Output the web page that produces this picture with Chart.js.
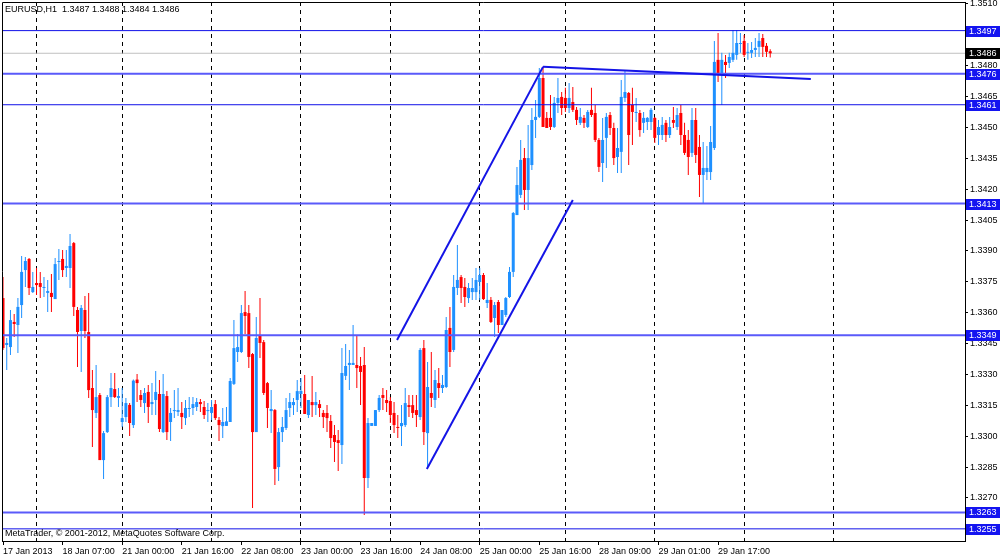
<!DOCTYPE html>
<html><head><meta charset="utf-8">
<script src="https://cdn.jsdelivr.net/npm/chart.js@4.4.1/dist/chart.umd.min.js"></script>
<style>html,body{margin:0;padding:0;background:#fff;overflow:hidden}canvas{display:block}</style>
</head><body>
<canvas id="c" width="1000" height="557"></canvas>
<script>
const symbolTitle = "EURUSD,H1  1.3487 1.3488 1.3484 1.3486";
const copyrightText = "MetaTrader, \u00A9 2001-2012, MetaQuotes Software Corp.";

const opens = [
1.33671,1.33443,1.33433,1.33555,1.33540,1.33637,1.33807,1.33861,1.33700,1.33744,
1.33744,1.33720,1.33696,1.33696,1.33666,1.33846,1.33861,1.33817,1.33817,1.33938,
1.33613,1.33511,1.33613,1.33506,1.33234,1.33113,1.33200,1.32884,1.33020,1.33190,
1.33229,1.33186,1.33069,1.33093,1.33152,1.33054,1.33275,1.33200,1.33161,1.33215,
1.33156,1.33176,1.33205,1.33020,1.33195,1.33069,1.33122,1.33118,1.33113,1.33088,
1.33132,1.33137,1.33142,1.33166,1.33142,1.33122,1.33113,1.33156,1.33079,1.33049,
1.33050,1.33069,1.33254,1.33409,1.33409,1.33603,1.33598,1.33399,1.33020,1.33491,
1.33457,1.33258,1.33122,1.33127,1.32850,1.33020,1.33040,1.33137,1.33151,1.33176,
1.33205,1.33205,1.33103,1.33166,1.33151,1.33156,1.33113,1.33113,1.33074,1.33006,
1.32981,1.32957,1.33293,1.33346,1.33346,1.33346,1.33341,1.33346,1.32797,1.33050,
1.33050,1.33127,1.33200,1.33176,1.33171,1.33113,1.33045,1.33049,1.33054,1.33151,
1.33151,1.33127,1.33093,1.33428,1.33015,1.33210,1.33176,1.33258,1.33234,1.33239,
1.33526,1.33419,1.33720,1.33773,1.33725,1.33671,1.33700,1.33700,1.33749,1.33783,
1.33647,1.33662,1.33574,1.33652,1.33540,1.33589,1.33676,1.33798,1.34074,1.34172,
1.34351,1.34196,1.34317,1.34536,1.34551,1.34740,1.34546,1.34546,1.34502,1.34619,
1.34648,1.34643,1.34594,1.34623,1.34585,1.34522,1.34546,1.34502,1.34585,1.34570,
1.34439,1.34327,1.34449,1.34560,1.34497,1.34356,1.34381,1.34643,1.34667,1.34609,
1.34570,1.34570,1.34522,1.34526,1.34526,1.34546,1.34463,1.34463,1.34522,1.34463,
1.34536,1.34502,1.34570,1.34463,1.34439,1.34376,1.34536,1.34405,1.34269,1.34283,
1.34283,1.34400,1.34828,1.34764,1.34818,1.34813,1.34828,1.34852,1.34905,1.34920,
1.34862,1.34862,1.34876,1.34891,1.34934,1.34896,1.3487];

const highs = [
1.33773,1.33477,1.33613,1.33594,1.33671,1.33875,1.33871,1.33866,1.33798,1.33817,
1.33798,1.33773,1.33759,1.33788,1.33866,1.33909,1.33904,1.33904,1.33982,1.33943,
1.33628,1.33637,1.33681,1.33696,1.33322,1.33346,1.33210,1.33025,1.33200,1.33307,
1.33307,1.33234,1.33234,1.33186,1.33161,1.33275,1.33302,1.33224,1.33234,1.33249,
1.33258,1.33317,1.33273,1.33302,1.33219,1.33137,1.33224,1.33234,1.33166,1.33176,
1.33190,1.33190,1.33186,1.33181,1.33171,1.33161,1.33176,1.33176,1.33093,1.33137,
1.33142,1.33283,1.33564,1.33496,1.33637,1.33705,1.33637,1.33404,1.33579,1.33671,
1.33467,1.33263,1.33224,1.33132,1.33040,1.33093,1.33186,1.33210,1.33186,1.33273,
1.33283,1.33297,1.33176,1.33293,1.33215,1.33176,1.33127,1.33151,1.33103,1.33054,
1.33030,1.33428,1.33448,1.33419,1.33540,1.33487,1.33385,1.33433,1.33088,1.33064,
1.33127,1.33200,1.33234,1.33224,1.33190,1.33166,1.33103,1.33151,1.33234,1.33200,
1.33200,1.33200,1.33428,1.33467,1.33360,1.33409,1.33322,1.33331,1.33297,1.33579,
1.33628,1.33783,1.33929,1.33783,1.33768,1.33744,1.33768,1.33817,1.33817,1.33793,
1.33744,1.33676,1.33652,1.33662,1.33613,1.33676,1.33822,1.34089,1.34308,1.34439,
1.34400,1.34512,1.34594,1.34633,1.34789,1.34794,1.34575,1.34657,1.34648,1.34740,
1.34672,1.34692,1.34716,1.34696,1.34599,1.34594,1.34560,1.34585,1.34692,1.34609,
1.34449,1.34546,1.34570,1.34575,1.34522,1.34497,1.34730,1.34779,1.34672,1.34692,
1.34643,1.34585,1.34575,1.34551,1.34594,1.34551,1.34536,1.34551,1.34536,1.34551,
1.34599,1.34594,1.34609,1.34522,1.34487,1.34594,1.34594,1.34463,1.34429,1.34410,
1.34507,1.34920,1.34959,1.34862,1.34852,1.34862,1.34973,1.34973,1.34959,1.34949,
1.34910,1.34915,1.34934,1.34959,1.34954,1.34910,1.3488];

const lows = [
1.33419,1.33322,1.33394,1.33482,1.33404,1.33574,1.33725,1.33686,1.33696,1.33686,
1.33671,1.33676,1.33603,1.33603,1.33666,1.33759,1.33773,1.33773,1.33720,1.33584,
1.33336,1.33312,1.33477,1.33186,1.32947,1.33088,1.32884,1.32792,1.33015,1.33142,
1.33186,1.33142,1.33045,1.33069,1.33001,1.33040,1.33166,1.33142,1.33113,1.33064,
1.33103,1.33103,1.33020,1.33015,1.32981,1.32977,1.33088,1.33098,1.33035,1.33054,
1.33093,1.33103,1.33122,1.33118,1.33083,1.33069,1.33079,1.33079,1.32977,1.32991,
1.33049,1.33069,1.33249,1.33360,1.33404,1.33496,1.33331,1.32651,1.33020,1.33380,
1.33200,1.33040,1.33015,1.32763,1.32782,1.32972,1.33030,1.33093,1.33103,1.33118,
1.33137,1.33108,1.33088,1.33093,1.33103,1.33093,1.33040,1.33020,1.32943,1.32875,
1.32831,1.32865,1.33273,1.33224,1.33346,1.33234,1.33151,1.32617,1.32748,1.33050,
1.33050,1.33118,1.33127,1.33118,1.33064,1.33015,1.32991,1.32952,1.33045,1.33093,
1.33088,1.33045,1.33079,1.32957,1.32846,1.33142,1.33137,1.33186,1.33210,1.33234,
1.33336,1.33409,1.33686,1.33647,1.33628,1.33647,1.33662,1.33662,1.33662,1.33662,
1.33623,1.33550,1.33482,1.33501,1.33540,1.33579,1.33671,1.33773,1.34074,1.34157,
1.34099,1.34099,1.34293,1.34449,1.34546,1.34502,1.34497,1.34487,1.34497,1.34570,
1.34560,1.34575,1.34570,1.34575,1.34512,1.34512,1.34497,1.34497,1.34551,1.34429,
1.34283,1.34235,1.34303,1.34463,1.34317,1.34279,1.34279,1.34623,1.34317,1.34415,
1.34526,1.34454,1.34473,1.34487,1.34487,1.34424,1.34415,1.34439,1.34429,1.34449,
1.34497,1.34487,1.34415,1.34366,1.34269,1.34356,1.34327,1.34162,1.34133,1.34245,
1.34245,1.34390,1.34721,1.34609,1.34740,1.34789,1.34818,1.34828,1.34862,1.34842,
1.34828,1.34837,1.34842,1.34842,1.34842,1.34842,1.3484];

const closes = [
1.33428,1.33453,1.33564,1.33545,1.33628,1.33798,1.33851,1.33720,1.33725,1.33734,
1.33725,1.33725,1.33705,1.33676,1.33836,1.33851,1.33807,1.33827,1.33924,1.33628,
1.33506,1.33623,1.33511,1.33224,1.33127,1.33190,1.32884,1.33015,1.33190,1.33234,
1.33190,1.33195,1.33088,1.33161,1.33064,1.33270,1.33258,1.33176,1.33210,1.33142,
1.33166,1.33215,1.33035,1.33205,1.33020,1.33113,1.33127,1.33127,1.33093,1.33137,
1.33137,1.33156,1.33166,1.33156,1.33103,1.33127,1.33142,1.33088,1.33054,1.33069,
1.33072,1.33268,1.33428,1.33433,1.33598,1.33584,1.33385,1.33020,1.33477,1.33453,
1.33210,1.33137,1.33132,1.32841,1.33020,1.33045,1.33127,1.33166,1.33166,1.33219,
1.33220,1.33108,1.33176,1.33151,1.33166,1.33137,1.33093,1.33088,1.32991,1.32972,
1.32967,1.33307,1.33341,1.33356,1.33356,1.33331,1.33312,1.32797,1.33064,1.33064,
1.33127,1.33186,1.33186,1.33161,1.33103,1.33054,1.33040,1.33064,1.33161,1.33142,
1.33113,1.33103,1.33419,1.33020,1.33239,1.33186,1.33273,1.33234,1.33249,1.33516,
1.33409,1.33725,1.33759,1.33720,1.33676,1.33720,1.33720,1.33759,1.33783,1.33666,
1.33662,1.33555,1.33637,1.33540,1.33613,1.33671,1.33798,1.34084,1.34220,1.34342,
1.34196,1.34351,1.34536,1.34551,1.34740,1.34502,1.34497,1.34502,1.34619,1.34643,
1.34594,1.34594,1.34643,1.34585,1.34536,1.34551,1.34522,1.34575,1.34560,1.34439,
1.34308,1.34439,1.34551,1.34497,1.34351,1.34400,1.34648,1.34672,1.34463,1.34575,
1.34575,1.34487,1.34546,1.34546,1.34585,1.34449,1.34502,1.34512,1.34463,1.34502,
1.34522,1.34560,1.34463,1.34376,1.34356,1.34536,1.34366,1.34269,1.34303,1.34303,
1.34429,1.34818,1.34764,1.34828,1.34803,1.34842,1.34862,1.34910,1.34910,1.34852,
1.34867,1.34876,1.34886,1.34920,1.34891,1.34867,1.3486];

// time axis (bar index of each labelled hour)
const timeTickIndex = [0,16,32,48,64,80,96,112,128,144,160,176,192];
const timeTickLabels = ["17 Jan 2013","18 Jan 07:00","21 Jan 00:00","21 Jan 16:00","22 Jan 08:00","23 Jan 00:00","23 Jan 16:00","24 Jan 08:00","25 Jan 00:00","25 Jan 16:00","28 Jan 09:00","29 Jan 01:00","29 Jan 17:00"];
// day separators (bar index of each midnight)
const daySeparatorIndex = [9,32,56,80,104,128,151,175,199,223];
// price axis
const priceTicks = [1.3270,1.3285,1.3300,1.3315,1.3330,1.3345,1.3360,1.3375,1.3390,1.3405,1.3420,1.3435,1.3450,1.3465,1.3480,1.3495,1.3510];
// horizontal levels
const strongLevels = [1.3497,1.3461,1.3255];
const softLevels = [1.3476,1.3413,1.3349,1.3263];
const bidPrice = 1.3486;
// trend lines: [barIndex, price] pairs
const channelUpper = [[105.8,1.33467],[145.0,1.34794]];
const channelLower = [[113.8,1.32841],[153.0,1.34147]];
const topTrend = [[145.0,1.34794],[216.9,1.34735]];

const X_MIN = -0.27, X_MAX = 258.3, Y_MIN = 1.32491, Y_MAX = 1.35109;
const BULL = '#1E90FF', BEAR = '#FF0000';
const FONT = {family:'"Liberation Sans", Arial, sans-serif', size:9};

const idx = opens.map((_, i) => i);
const isBull = i => closes[i] >= opens[i];
const candleColor = ctx => isBull(ctx.dataIndex) ? BULL : BEAR;

function hLine(v, color, width, order) {
  return {type:'line', data:[{x:X_MIN,y:v},{x:X_MAX,y:v}], borderColor:color, borderWidth:width,
    pointRadius:0, fill:false, tension:0, order:order};
}
function segLine(seg, color, width, order) {
  return {type:'line', data:seg.map(p=>({x:p[0],y:p[1]})), borderColor:color, borderWidth:width,
    pointRadius:0, fill:false, tension:0, order:order};
}

const datasets = [
  {type:'bar', data: idx.map(i=>({x:i, y:[lows[i], highs[i]]})), backgroundColor:candleColor,
   grouped:false, maxBarThickness:1, barPercentage:1, categoryPercentage:1, inflateAmount:0, borderWidth:0, order:6},
  {type:'bar', data: idx.map(i=>({x:i, y:[opens[i], closes[i]]})), backgroundColor:candleColor,
   grouped:false, maxBarThickness:3, barPercentage:1, categoryPercentage:1, inflateAmount:0, borderWidth:0, minBarLength:1, order:5},
  hLine(bidPrice, '#C0C0C0', 1, 8),
  ...strongLevels.map(v => hLine(v, '#1010E8', 1, 3)),
  ...softLevels.map(v => hLine(v, '#5A5AFA', 2, 3)),
  segLine(channelUpper, '#1414E6', 2, 1),
  segLine(channelLower, '#1414E6', 2, 1),
  segLine(topTrend, '#1414E6', 2, 1)
];

function noPad(s) { s.paddingLeft = 0; s.paddingRight = 0; s.paddingTop = 0; s.paddingBottom = 0; }

const overlay = {
  id:'mtOverlay',
  afterDraw(chart) {
    const {ctx, chartArea:a, scales} = chart;
    ctx.save();
    ctx.strokeStyle = '#000'; ctx.lineWidth = 1;
    ctx.beginPath();
    ctx.moveTo(a.left + 0.5, a.bottom); ctx.lineTo(a.left + 0.5, a.top + 0.5); ctx.lineTo(a.right, a.top + 0.5);
    ctx.stroke();
    ctx.font = '9px "Liberation Sans", Arial, sans-serif';
    ctx.fillStyle = '#000'; ctx.textBaseline = 'middle'; ctx.textAlign = 'left';
    ctx.fillText(symbolTitle, a.left + 3, a.top + 8);
    ctx.fillText(copyrightText, a.left + 3, a.bottom - 7);
    const boxes = strongLevels.concat(softLevels).map(v => [v, '#1414F0']).concat([[bidPrice, '#000']]);
    boxes.forEach(([v, bg]) => {
      const y = Math.round(scales.y.getPixelForValue(v));
      ctx.fillStyle = bg;
      ctx.fillRect(a.right + 1, y - 5, 34, 11);
      ctx.fillStyle = '#fff';
      ctx.fillText(v.toFixed(4), a.right + 4, y + 0.5);
    });
    ctx.restore();
  }
};

new Chart(document.getElementById('c'), {
  type:'bar',
  data:{datasets},
  options:{
    responsive:false, animation:false, devicePixelRatio:1,
    layout:{padding:{left:2, top:2, right:0, bottom:0}},
    plugins:{legend:{display:false}, tooltip:{enabled:false}},
    scales:{
      x:{type:'linear', position:'bottom', min:X_MIN, max:X_MAX, offset:false,
        grid:{drawOnChartArea:false, drawTicks:true, tickLength:4, color:'#000', offset:false},
        border:{display:true, color:'#000'},
        ticks:{autoSkip:false, maxRotation:0, minRotation:0, align:'start', padding:1, font:FONT, color:'#000',
          callback:(v, i) => timeTickLabels[i]},
        afterBuildTicks: s => { s.ticks = timeTickIndex.map(v => ({value:v})); },
        afterFit: s => { s.height = 16; noPad(s); }
      },
      xsep:{type:'linear', position:'top', min:X_MIN, max:X_MAX, offset:false,
        grid:{drawOnChartArea:true, drawTicks:false, color:'#000', lineWidth:1, offset:false},
        border:{display:false, dash:[4,4]},
        ticks:{display:false},
        afterBuildTicks: s => { s.ticks = daySeparatorIndex.map(v => ({value:v})); },
        afterFit: s => { s.height = 0; noPad(s); }
      },
      y:{type:'linear', position:'right', min:Y_MIN, max:Y_MAX,
        grid:{drawOnChartArea:false, drawTicks:true, tickLength:3, color:'#000'},
        border:{display:true, color:'#000'},
        ticks:{autoSkip:false, padding:2, font:FONT, color:'#000', callback:v => Number(v).toFixed(4)},
        afterBuildTicks: s => { s.ticks = priceTicks.map(v => ({value:v})); },
        afterFit: s => { s.width = 35; noPad(s); }
      }
    }
  },
  plugins:[overlay]
});
</script>
</body></html>
